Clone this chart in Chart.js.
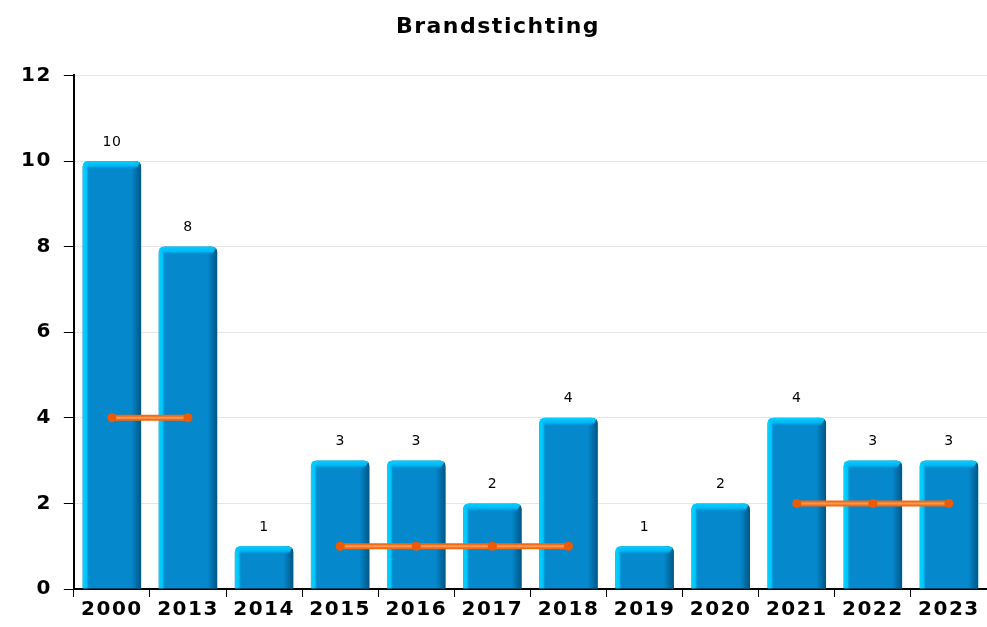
<!DOCTYPE html>
<html><head><meta charset="utf-8">
<script src="https://cdn.jsdelivr.net/npm/chart.js@4.4.0/dist/chart.umd.min.js"></script>
<style>html,body{margin:0;padding:0;background:#fff}#wrap{width:987px;height:627px;position:relative}</style>
</head><body><div id="wrap"><canvas id="c"></canvas></div>
<script>
const chartTitle = 'Brandstichting';
const categories = ['2000','2013','2014','2015','2016','2017','2018','2019','2020','2021','2022','2023'];
const counts = [10, 8, 1, 3, 3, 2, 4, 1, 2, 4, 3, 3];
const averages = [4, 4, null, 1, 1, 1, 1, null, null, 2, 2, 2];
const yTickValues = [0, 2, 4, 6, 8, 10, 12];

const spacingPlugin = {
  id: 'spacing',
  beforeLayout(chart) { chart.ctx.letterSpacing = '1.5px'; },
  beforeDraw(chart) { chart.ctx.letterSpacing = '1.5px'; }
};

const barShade = {
  id: 'barShade',
  afterDatasetDraw(chart, args) {
    if (args.index !== 0) return;
    const ctx = chart.ctx;
    args.meta.data.forEach(el => {
      const p = el.getProps(['x', 'y', 'base', 'width'], true);
      const l = p.x - p.width / 2, r = p.x + p.width / 2, t = p.y, b = p.base, rad = 6;
      const w = r - l;
      ctx.save();
      ctx.beginPath();
      ctx.moveTo(l, b);
      ctx.lineTo(l, t + rad);
      ctx.quadraticCurveTo(l, t, l + rad, t);
      ctx.lineTo(r - rad, t);
      ctx.quadraticCurveTo(r, t, r, t + rad);
      ctx.lineTo(r, b);
      ctx.closePath();
      ctx.clip();
      let g = ctx.createLinearGradient(l, 0, r, 0);
      g.addColorStop(0, 'rgba(0,215,255,1)');
      g.addColorStop(4 / w, 'rgba(0,200,255,0.9)');
      g.addColorStop(7 / w, 'rgba(0,136,204,0)');
      g.addColorStop(1 - 10 / w, 'rgba(0,110,170,0)');
      g.addColorStop(1 - 5 / w, 'rgba(0,105,160,0.8)');
      g.addColorStop(1, 'rgba(0,85,130,1)');
      ctx.fillStyle = g;
      ctx.fillRect(l, t, w, b - t);
      let gv = ctx.createLinearGradient(0, t, 0, t + 9);
      gv.addColorStop(0, 'rgba(0,210,255,1)');
      gv.addColorStop(0.55, 'rgba(0,190,250,0.85)');
      gv.addColorStop(1, 'rgba(0,136,204,0)');
      ctx.fillStyle = gv;
      ctx.beginPath();
      ctx.moveTo(l, t);
      ctx.lineTo(r, t);
      ctx.lineTo(r - 6, t + 9);
      ctx.lineTo(l + 5, t + 9);
      ctx.closePath();
      ctx.fill();
      ctx.restore();
    });
  }
};

const valueLabels = {
  id: 'valueLabels',
  afterDatasetsDraw(chart) {
    const ctx = chart.ctx;
    const meta = chart.getDatasetMeta(0);
    ctx.save();
    ctx.letterSpacing = '0.5px';
    ctx.font = '14px "DejaVu Sans"';
    ctx.fillStyle = '#000';
    ctx.textAlign = 'center';
    ctx.textBaseline = 'middle';
    meta.data.forEach((el, i) => {
      ctx.fillText(String(counts[i]), el.x, el.y - 19);
    });
    ctx.restore();
  }
};

new Chart(document.getElementById('c'), {
  data: {
    labels: categories,
    datasets: [
      { type: 'bar', data: counts, backgroundColor: '#0588cc', borderWidth: 0,
        borderRadius: { topLeft: 6, topRight: 6 }, borderSkipped: 'bottom',
        barPercentage: 0.77, categoryPercentage: 1, order: 4 },
      { type: 'line', data: averages, borderColor: '#f46a10', borderWidth: 6, pointRadius: 0,
        spanGaps: false, order: 3 },
      { type: 'line', data: averages, borderColor: '#ff9858', borderWidth: 2, pointRadius: 0,
        spanGaps: false, order: 2 },
      { type: 'line', data: averages, showLine: false, pointRadius: 4.5, pointStyle: 'circle',
        pointBackgroundColor: '#ec5a06', pointBorderColor: '#ec5a06', pointBorderWidth: 0, order: 1 }
    ]
  },
  options: {
    responsive: true, maintainAspectRatio: false, animation: false,
    layout: { autoPadding: false, padding: { left: 9, right: 0, top: 8, bottom: 4 } },
    plugins: {
      legend: { display: false }, tooltip: { enabled: false },
      title: { display: true, text: chartTitle, color: '#000',
        font: { family: 'DejaVu Sans', size: 22, weight: 'bold' }, padding: { top: 6, bottom: 35 } }
    },
    scales: {
      x: {
        offset: true,
        grid: { display: true, drawOnChartArea: false, tickLength: 8, tickColor: '#000', offset: true },
        border: { display: true, color: '#000', width: 2 },
        ticks: { color: '#000', font: { family: 'DejaVu Sans', size: 20, weight: 'bold' }, padding: 1, maxRotation: 0, autoSkip: false }
      },
      y: {
        min: 0, max: 12,
        afterBuildTicks(axis) { axis.ticks = yTickValues.map(v => ({ value: v })); },
        grid: { color: '#e6e6e6', tickColor: '#000', tickLength: 10, lineWidth: 1 },
        border: { display: true, color: '#000', width: 2 },
        ticks: { color: '#000', font: { family: 'DejaVu Sans', size: 20, weight: 'bold' }, padding: 12 }
      }
    }
  },
  plugins: [spacingPlugin, barShade, valueLabels]
});
</script>
</body></html>
